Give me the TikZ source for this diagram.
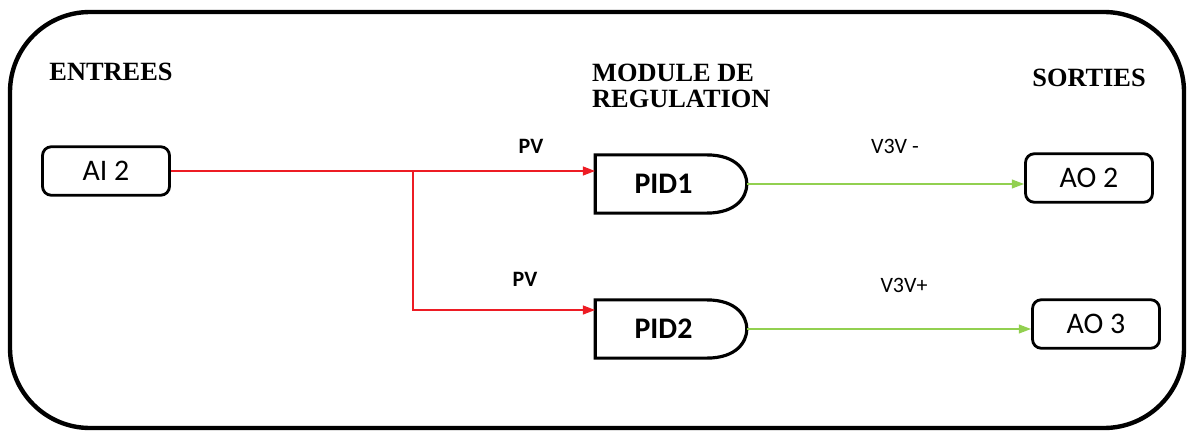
\documentclass[tikz,border=0pt]{standalone}
\usepackage{fontspec}
\setmainfont{Liberation Serif}
\newfontfamily\calibri{Carlito}
\usepackage{tikz}
\usetikzlibrary{positioning, arrows.meta}
\definecolor{rouge}{RGB}{237,28,36}
\definecolor{vert}{RGB}{146,208,80}

\tikzset{
  titre/.style={font=\fontsize{15}{15}\selectfont\bfseries, align=left},
  boite/.style={draw, line width=1.6pt, rounded corners=5pt, minimum width=2.54cm,
    minimum height=0.97cm, inner sep=0pt, font=\calibri\fontsize{17}{18}\selectfont},
  regul/.style={minimum width=3.02cm, minimum height=1.15cm, inner sep=0pt,
    font=\calibri\fontsize{17}{18}\selectfont\bfseries},
  porte/.style={line width=1.8pt},
  signal/.style={font=\calibri\fontsize{12.5}{14}\selectfont},
  filrouge/.style={rouge, line width=1.1pt, -{Triangle[length=7pt, width=5pt]}},
  filvert/.style={vert, line width=1pt, -{Triangle[length=7pt, width=5pt]}}
}

\begin{document}
\begin{tikzpicture}[x=0.02cm, y=-0.02cm]
\useasboundingbox (0,0) rectangle (1192,432);

% Cadre
\draw[line width=2.5pt, rounded corners=1.6cm] (10,12) rectangle (1184,428);

% Titres
\node[titre] (entrees) at (111,72) {ENTREES};
\node[titre, anchor=west] (module) at (586,86) {MODULE DE\\REGULATION};
\node[titre] (sorties) at (1089,78) {SORTIES};

% Entree
\node[boite] (ai2) at (106,171) {AI 2};

% Regulateurs
\node[regul] (pid1) at (671,184) {\hspace{-0.3cm}PID1};
\node[regul] (pid2) at (671,329) {\hspace{-0.3cm}PID2};
\foreach \p in {pid1,pid2}
  \draw[porte] (\p.north west) -- ([xshift=-0.8cm]\p.north east)
    .. controls ([xshift=-0.2cm]\p.north east) and ([yshift=0.25cm]\p.east) .. (\p.east)
    .. controls ([yshift=-0.25cm]\p.east) and ([xshift=-0.2cm]\p.south east) .. ([xshift=-0.8cm]\p.south east)
    -- (\p.south west) -- cycle;

% Sorties
\node[boite] (ao2) at (1089,178) {AO 2};
\node[boite] (ao3) at (1096,324) {AO 3};

% Liaisons PV
\coordinate (branche) at (413,171);
\draw[filrouge] (ai2.east) -- (ai2.east -| pid1.west);
\draw[filrouge] (branche) |- ([yshift=0.38cm]pid2.west);
\node[signal, font=\calibri\fontsize{12.5}{14}\selectfont\bfseries] (pv1) at (531,146) {PV};
\node[signal, font=\calibri\fontsize{12.5}{14}\selectfont\bfseries] (pv2) at (525,279) {PV};

% Commandes vanne 3 voies
\draw[filvert] (pid1.east) -- (pid1.east -| ao2.west);
\draw[filvert] (pid2.east) -- (pid2.east -| ao3.west);
\node[signal] (v3vm) at (895,146) {V3V -};
\node[signal] (v3vp) at (904,285) {V3V+};

\end{tikzpicture}
\end{document}
